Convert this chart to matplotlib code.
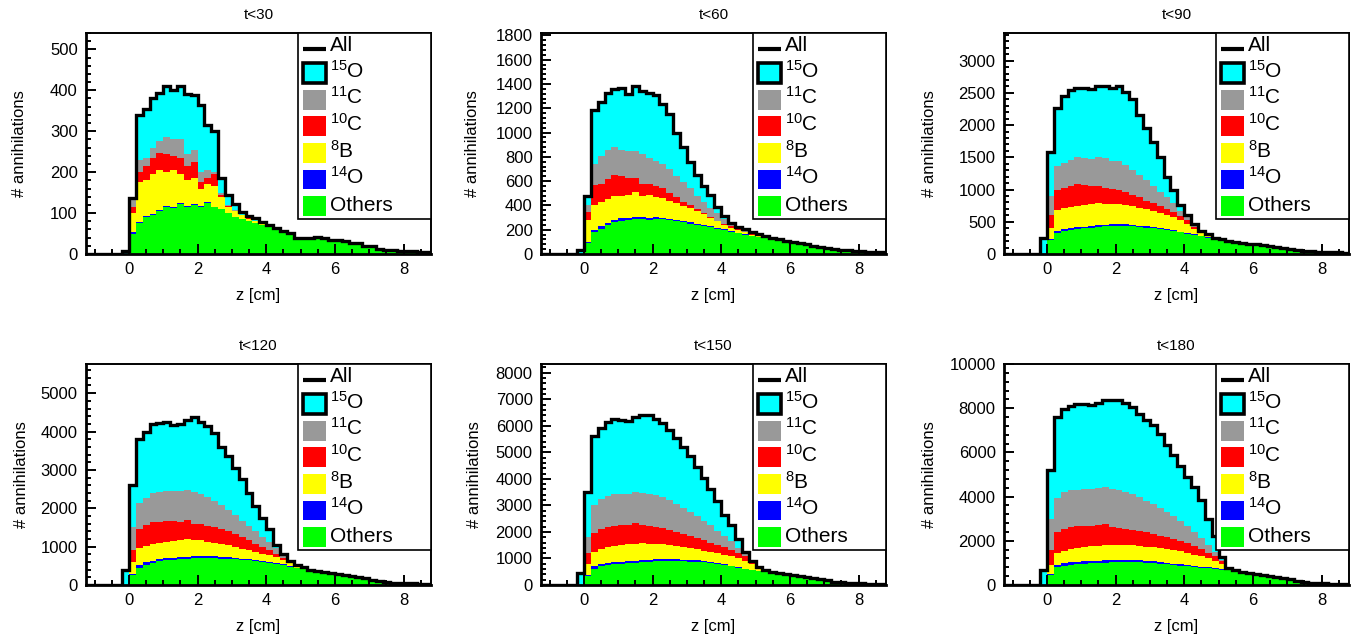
import numpy as np
import matplotlib.pyplot as plt
from matplotlib.patches import Rectangle
from matplotlib.lines import Line2D
from matplotlib.ticker import MultipleLocator

plt.rcParams['font.family'] = ['Liberation Sans', 'DejaVu Sans']
plt.rcParams['mathtext.fontset'] = 'custom'
plt.rcParams['mathtext.rm'] = 'Liberation Sans'
plt.rcParams['mathtext.it'] = 'Liberation Sans:italic'
plt.rcParams['mathtext.bf'] = 'Liberation Sans:bold'

# histogram bins: 0.2 cm wide, first bin starts at z = -0.2, last ends at 8.8
z_start, z_stop, dz = -0.2, 8.8, 0.2

titles = ['t<30', 't<60', 't<90', 't<120', 't<150', 't<180']
y_max = [540, 1820, 3430, 5760, 8330, 10000]
y_step = [100, 200, 500, 1000, 1000, 2000]

# ---- t<30 ----
all_30 = [7, 136, 340, 354, 380, 394, 410, 400, 410, 390, 388, 364, 316, 300, 185, 144, 121, 103,
          92, 88, 78, 70, 64, 57, 52, 40, 38, 40, 42, 40, 35, 33, 31, 28, 26, 20, 20, 12, 10, 9, 8,
          8, 7, 6, 5]
others_30 = [0, 50, 75, 90, 95, 105, 115, 112, 122, 115, 120, 115, 125, 115, 110, 100, 90, 85,
             80, 75, 70, 66, 60, 54, 49, 37, 35, 37, 39, 37, 32, 30, 28, 25, 23, 17, 17, 9, 7, 6,
             5, 5, 4, 3, 2]
o14_30 = [0, 3, 4, 4, 3, 3, 3, 2, 2, 2, 2, 2, 2, 1, 1, 1, 1, 0, 0, 0, 0]
b8_30 = [0, 47, 96, 86, 97, 97, 82, 91, 71, 63, 63, 43, 43, 49, 29, 14, 14, 10, 6, 5, 3]
c10_30 = [0, 15, 25, 35, 40, 43, 45, 35, 40, 35, 40, 15, 15, 30, 5, 3, 1, 1, 1, 1, 0]
c11_30 = [0, 25, 30, 20, 25, 27, 40, 40, 45, 30, 30, 25, 20, 5, 5, 1, 1, 0, 0, 0, 0]

# ---- t<60 ----
all_60 = [30, 480, 1185, 1255, 1330, 1360, 1365, 1320, 1380, 1340, 1330, 1310, 1235, 1150, 1000,
          880, 760, 650, 560, 490, 390, 310, 258, 226, 204, 185, 163, 145, 130, 121, 110, 100,
          90, 80, 70, 60, 50, 40, 35, 30, 25, 22, 20, 18, 15]
others_60 = [0, 90, 180, 210, 240, 265, 275, 280, 285, 285, 280, 290, 285, 278, 270, 260, 250,
             240, 230, 220, 210, 198, 185, 172, 160, 145, 138, 133, 120, 112, 102, 92, 83, 73,
             64, 54, 45, 36, 31, 26, 22, 19, 17, 15, 12]
o14_60 = [0, 10, 20, 18, 18, 18, 18, 18, 17, 16, 15, 15, 14, 13, 12, 11, 10, 9, 8, 7, 6, 5, 4,
          3, 2, 2, 1]
b8_60 = [0, 180, 200, 202, 192, 197, 187, 192, 208, 179, 195, 165, 161, 149, 138, 124, 115, 106,
         92, 73, 54, 37, 26, 20, 16, 13, 9]
c10_60 = [0, 70, 170, 150, 170, 170, 160, 140, 115, 100, 90, 90, 80, 60, 50, 35, 25, 15, 10, 5,
          5, 10, 13, 10, 7, 6, 4]
c11_60 = [0, 50, 170, 230, 240, 235, 220, 215, 225, 240, 210, 210, 200, 200, 170, 160, 140, 110,
          90, 75, 60, 35, 22, 13, 10, 9, 3]

# ---- t<90 ----
all_90 = [250, 1585, 2270, 2450, 2540, 2570, 2570, 2565, 2600, 2600, 2570, 2610, 2520, 2400,
          2150, 1950, 1740, 1500, 1200, 990, 760, 600, 470, 360, 305, 255, 230, 200, 185, 170,
          160, 150, 140, 125, 110, 95, 80, 62, 50, 42, 36, 32, 28, 25, 22]
others_90 = [0, 220, 320, 360, 380, 390, 400, 410, 420, 430, 440, 440, 440, 430, 420, 410, 400,
             385, 370, 355, 335, 315, 295, 275, 255, 235, 215, 185, 170, 155, 145, 135, 126,
             112, 99, 85, 71, 55, 44, 37, 32, 28, 25, 22, 19]
o14_90 = [0, 15, 30, 28, 27, 27, 26, 26, 25, 25, 24, 24, 23, 22, 21, 20, 18, 17, 16, 14, 12, 10,
          8, 6, 5, 4, 3]
b8_90 = [0, 165, 340, 322, 323, 333, 334, 334, 345, 315, 306, 306, 297, 288, 279, 270, 252, 238,
         224, 201, 173, 145, 90, 50, 30, 6, 4]
c10_90 = [0, 200, 300, 320, 330, 330, 310, 290, 270, 260, 240, 220, 200, 180, 160, 130, 120, 110,
          90, 80, 70, 50, 30, 10, 5, 3, 2]
c11_90 = [0, 300, 380, 390, 400, 420, 420, 420, 440, 460, 440, 450, 420, 380, 350, 320, 270, 220,
          180, 140, 80, 50, 20, 5, 5, 2, 1]

# ---- t<120 ----
all_120 = [400, 2600, 3800, 4000, 4200, 4220, 4250, 4170, 4200, 4300, 4380, 4250, 4150, 3950,
           3600, 3350, 3050, 2750, 2400, 2050, 1750, 1450, 1050, 800, 630, 520, 460, 400, 360,
           330, 300, 280, 250, 230, 200, 170, 140, 100, 80, 65, 55, 48, 42, 38, 33]
others_120 = [0, 250, 450, 530, 580, 620, 640, 660, 670, 690, 700, 700, 700, 700, 690, 680, 670,
              650, 640, 620, 600, 580, 550, 520, 480, 440, 410, 370, 335, 305, 278, 258, 238,
              220, 190, 160, 132, 92, 73, 59, 50, 43, 38, 34, 30]
o14_120 = [0, 30, 60, 60, 55, 55, 55, 50, 50, 50, 50, 48, 46, 44, 42, 40, 38, 35, 32, 30, 27, 24,
           20, 16, 12, 8, 5]
b8_120 = [0, 320, 450, 430, 425, 425, 435, 440, 450, 460, 420, 412, 384, 356, 338, 310, 282, 255,
          228, 210, 193, 166, 150, 114, 88, 52, 30]
c10_120 = [0, 300, 490, 540, 570, 550, 550, 530, 480, 500, 430, 420, 400, 400, 390, 370, 350, 310,
           270, 220, 180, 130, 80, 50, 20, 5, 5]
c11_120 = [0, 600, 700, 720, 770, 780, 780, 770, 810, 770, 820, 800, 770, 700, 620, 550, 480, 430,
           370, 320, 250, 210, 160, 80, 20, 10, 5]

# ---- t<150 ----
all_150 = [450, 3500, 5600, 5900, 6150, 6260, 6230, 6200, 6350, 6420, 6400, 6250, 6100, 5850,
           5550, 5200, 4850, 4450, 4050, 3600, 3150, 2650, 2250, 1750, 1250, 900, 660, 560, 500,
           450, 420, 380, 340, 300, 260, 220, 180, 130, 100, 85, 70, 60, 55, 50, 45]
others_150 = [0, 350, 620, 700, 740, 780, 800, 820, 840, 860, 880, 890, 900, 900, 900, 890, 880,
              870, 850, 820, 790, 750, 700, 650, 600, 560, 520, 530, 475, 428, 400, 360, 322,
              284, 246, 207, 168, 120, 92, 78, 64, 55, 50, 45, 41]
o14_150 = [0, 40, 90, 90, 85, 85, 85, 80, 80, 80, 78, 76, 74, 72, 70, 66, 62, 58, 54, 50, 45, 40,
           34, 28, 20, 12, 8]
b8_150 = [0, 410, 540, 560, 595, 615, 615, 640, 640, 630, 602, 594, 566, 528, 510, 484, 458, 412,
          396, 380, 365, 350, 346, 322, 280, 208, 92]
c10_150 = [0, 400, 700, 750, 780, 760, 760, 740, 770, 690, 660, 620, 590, 580, 520, 480, 450, 420,
           380, 350, 300, 280, 250, 220, 200, 80, 20]
c11_150 = [0, 600, 1050, 1150, 1150, 1180, 1180, 1140, 1170, 1190, 1210, 1200, 1170, 1120, 1060,
           980, 900, 840, 750, 650, 550, 430, 320, 180, 50, 20, 10]

# ---- t<180 ----
all_180 = [700, 5200, 7600, 7950, 8100, 8200, 8200, 8150, 8250, 8350, 8350, 8350, 8250, 8050,
           7750, 7450, 7250, 6850, 6350, 5900, 5400, 4900, 4450, 3850, 3000, 2200, 1250, 780,
           660, 610, 560, 490, 440, 400, 370, 330, 290, 200, 130, 100, 80, 70, 60, 55, 50]
others_180 = [0, 450, 800, 870, 920, 950, 970, 990, 1000, 1010, 1020, 1020, 1030, 1030, 1020,
              1010, 990, 960, 930, 900, 870, 850, 820, 790, 760, 730, 700, 700, 620, 580, 530,
              465, 415, 375, 345, 305, 265, 180, 115, 88, 70, 60, 52, 47, 43]
o14_180 = [0, 60, 120, 120, 115, 110, 110, 105, 105, 100, 100, 98, 95, 92, 90, 85, 80, 76, 72, 68,
           62, 56, 50, 42, 34, 25, 15]
b8_180 = [0, 390, 530, 560, 585, 620, 640, 655, 665, 690, 670, 692, 695, 678, 670, 645, 630, 624,
          618, 602, 588, 544, 510, 468, 406, 325, 235]
c10_180 = [0, 700, 950, 1000, 1000, 980, 960, 930, 930, 950, 830, 770, 730, 700, 670, 660, 600,
           570, 530, 510, 480, 450, 400, 320, 250, 220, 150]
c11_180 = [0, 1400, 1550, 1650, 1680, 1660, 1650, 1660, 1700, 1700, 1740, 1740, 1670, 1600, 1520,
           1420, 1370, 1270, 1150, 1020, 880, 750, 620, 500, 370, 180, 50]

totals = [all_30, all_60, all_90, all_120, all_150, all_180]
others = [others_30, others_60, others_90, others_120, others_150, others_180]
o14 = [o14_30, o14_60, o14_90, o14_120, o14_150, o14_180]
b8 = [b8_30, b8_60, b8_90, b8_120, b8_150, b8_180]
c10 = [c10_30, c10_60, c10_90, c10_120, c10_150, c10_180]
c11 = [c11_30, c11_60, c11_90, c11_120, c11_150, c11_180]

labels = ['$^{15}$O', '$^{11}$C', '$^{10}$C', '$^{8}$B', '$^{14}$O', 'Others']
green, blue, yellow, red, grey, cyan = '#00ff00', '#0000ff', '#ffff00', '#ff0000', '#999999', '#00ffff'
box_colors = [cyan, grey, red, yellow, blue, green]

nbins = int(round((z_stop - z_start) / dz))
edges = np.concatenate([[-1.25], np.round(np.linspace(z_start, z_stop, nbins + 1), 2)])


def padded(a):
    a = np.asarray(a, float)
    return np.concatenate([a, np.zeros(nbins - len(a))])


fig = plt.figure(figsize=(13.58, 6.39), dpi=100, facecolor='white')

lefts = [86, 541, 1004]
tops = [33, 364]
ylab_x = [[-0.171, -0.177, -0.194], [-0.165, -0.170, -0.194]]

for i in range(6):
    row, col = divmod(i, 3)
    x0 = lefts[col] / 1358
    y0 = (639 - tops[row] - 221) / 639
    ax = fig.add_axes([x0, y0, 345 / 1358, 221 / 639])

    tot = padded(totals[i])
    parts = [padded(others[i]), padded(o14[i]), padded(b8[i]), padded(c10[i]), padded(c11[i])]
    levels = list(np.cumsum(parts, axis=0))
    levels.append(np.maximum(tot, levels[-1]))
    cols = [green, blue, yellow, red, grey, cyan]
    # paint from the top of the stack down so no seams show between layers
    for lev, c in reversed(list(zip(levels, cols))):
        ax.stairs(np.concatenate([[0], lev]), edges, baseline=0, fill=True,
                  facecolor=c, edgecolor='none', lw=0)
    ax.stairs(np.concatenate([[0], tot]), edges, baseline=None, color='black', lw=2.4)

    ax.set_xlim(-1.25, 8.8)
    ax.set_ylim(0, y_max[i])
    ax.xaxis.set_major_locator(MultipleLocator(2))
    ax.xaxis.set_minor_locator(MultipleLocator(0.5))
    ax.yaxis.set_major_locator(MultipleLocator(y_step[i]))
    ax.yaxis.set_minor_locator(MultipleLocator(y_step[i] / 5))
    ax.tick_params(which='both', direction='in', top=False, right=False,
                   labelsize=12, width=1.4, pad=6)
    ax.tick_params(which='major', length=7)
    ax.tick_params(which='minor', length=3.5)
    for s in ['left', 'bottom']:
        ax.spines[s].set_linewidth(2.0)
    for s in ['top', 'right']:
        ax.spines[s].set_linewidth(1.4)

    ax.set_xlabel('z [cm]', fontsize=12)
    ax.set_ylabel('# annihilations', fontsize=12)
    ax.xaxis.set_label_coords(0.5, -0.155)
    ax.yaxis.set_label_coords(ylab_x[row][col], 0.5)
    ax.text(0.5, 1.081, titles[i], transform=ax.transAxes, ha='center', va='center', fontsize=11)

    # legend box
    ax.add_patch(Rectangle((0.614, 0.158), 0.386, 0.842, transform=ax.transAxes,
                           facecolor='white', edgecolor='black', lw=1.2, zorder=5, clip_on=False))
    ax.add_line(Line2D([0.629, 0.696], [0.929, 0.929], transform=ax.transAxes,
                       color='black', lw=3, zorder=6, solid_capstyle='butt'))
    ax.text(0.708, 0.919, 'All', transform=ax.transAxes, fontsize=15, va='baseline', zorder=6)
    for k, (lab, c) in enumerate(zip(labels, box_colors)):
        yc = 0.819 - k * 0.1205
        if k == 0:
            ax.add_patch(Rectangle((0.629, yc - 0.045), 0.067, 0.09, transform=ax.transAxes,
                                   facecolor=c, edgecolor='black', lw=2.6, zorder=6))
        else:
            ax.add_patch(Rectangle((0.629, yc - 0.045), 0.067, 0.09, transform=ax.transAxes,
                                   facecolor=c, edgecolor='none', zorder=6))
        ax.text(0.708, yc - 0.020, lab, transform=ax.transAxes, fontsize=15,
                va='baseline', zorder=6)

fig.savefig('out.png', dpi=100, facecolor='white')
